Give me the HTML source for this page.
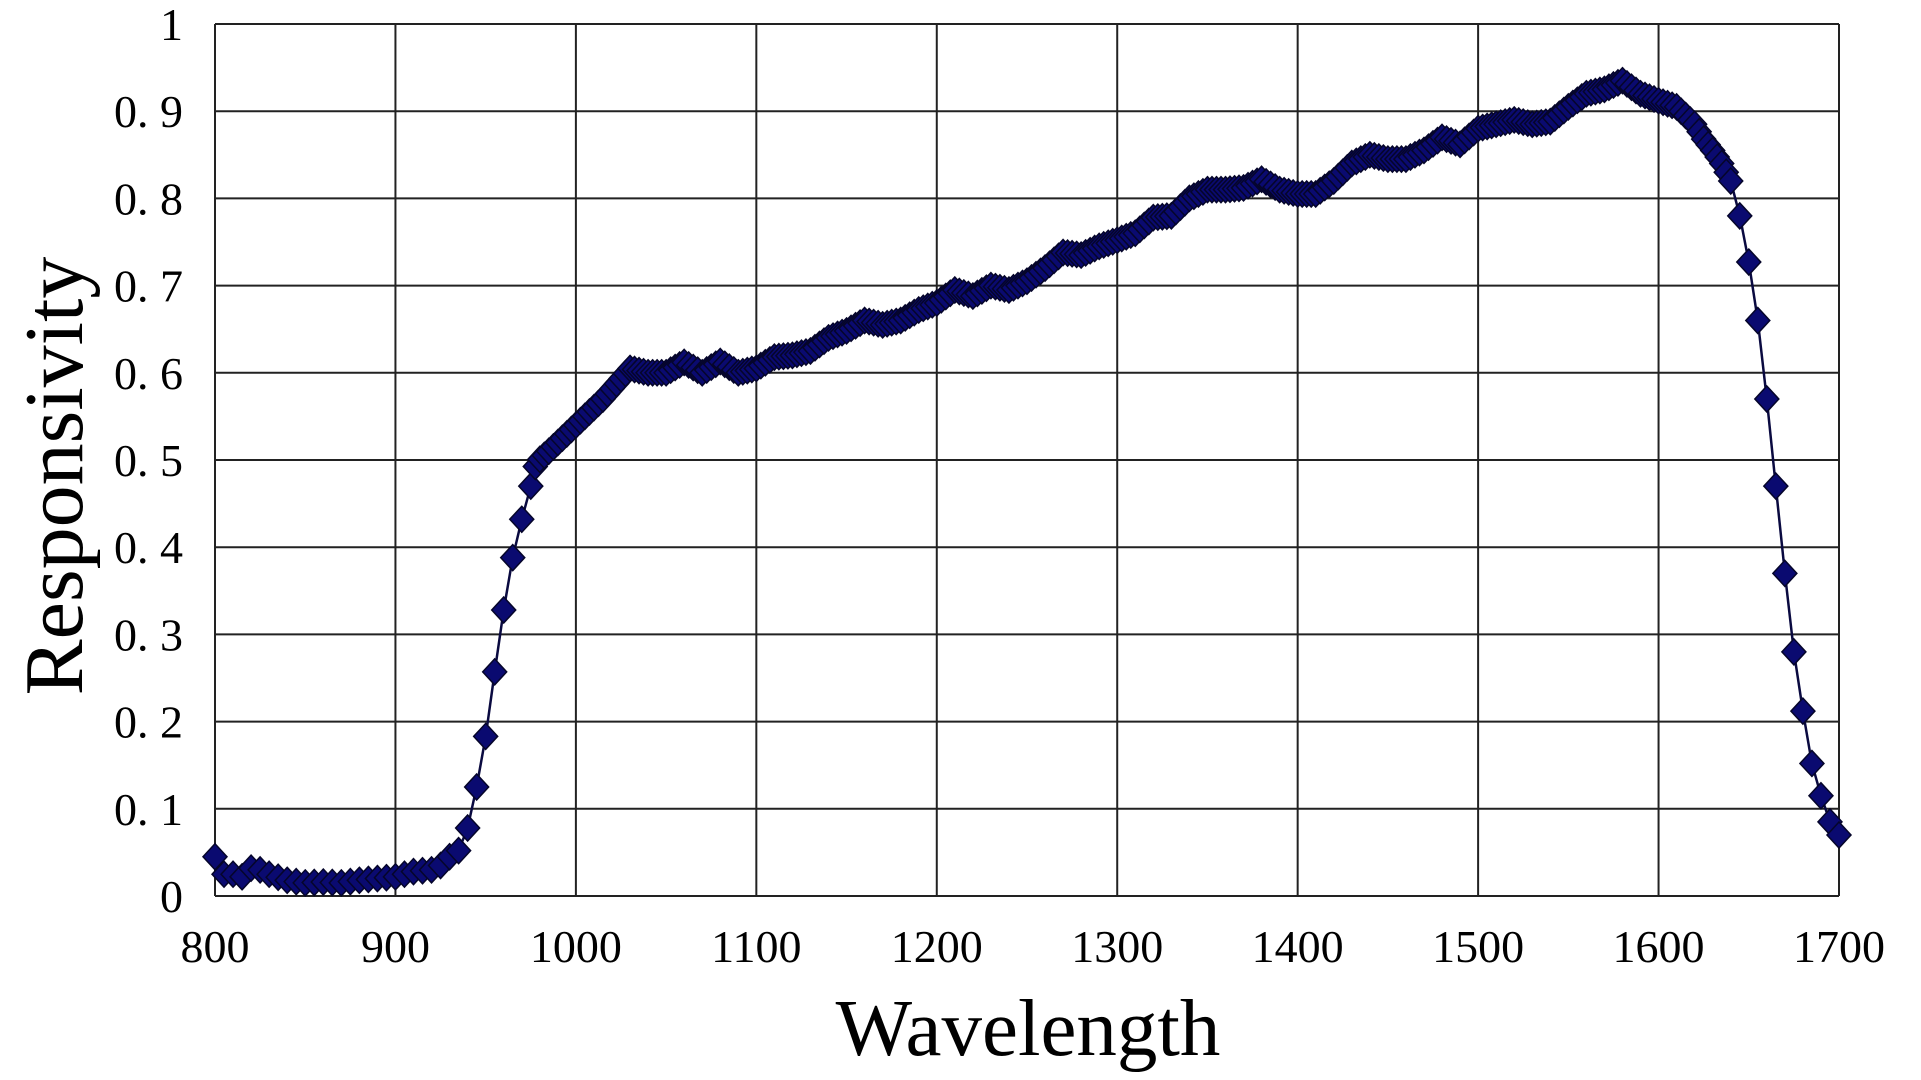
<!DOCTYPE html>
<html><head><meta charset="utf-8"><style>
html,body{margin:0;padding:0;background:#fff;}
svg{display:block;}
text{font-family:"Liberation Serif",serif;fill:#000;}
</style></head><body>
<svg id="s" width="1921" height="1080" xmlns="http://www.w3.org/2000/svg">
<rect width="1921" height="1080" fill="#fff"/>
<g id="grid" stroke="#222" stroke-width="2"></g>
<g id="lab" font-size="46"></g>
<text x="1028" y="1055" font-size="81" text-anchor="middle">Wavelength</text>
<text transform="translate(82,476) rotate(-90)" font-size="84" text-anchor="middle">Responsivity</text>
<polyline id="ln" fill="none" stroke="#0a0a40" stroke-width="2.5"/>
<g id="mk" fill="#0a0a70" stroke="#05052a" stroke-width="1.5"></g>
</svg>
<script>
var L=215,R=1839,T=24,B=896,NS="http://www.w3.org/2000/svg";
function X(w){return L+(w-800)/900*(R-L);}function Y(v){return B-v*(B-T);}
var g=document.getElementById('grid'),lab=document.getElementById('lab');
function el(p,t,a){var e=document.createElementNS(NS,t);for(var k in a)e.setAttribute(k,a[k]);p.appendChild(e);return e;}
for(var i=0;i<=9;i++){var x=X(800+i*100);el(g,'line',{x1:x,y1:T,x2:x,y2:B});
 var t=el(lab,'text',{x:x,y:962,'text-anchor':'middle'});t.textContent=800+i*100;}
for(var j=0;j<=10;j++){var y=Y(j/10);el(g,'line',{x1:L,y1:y,x2:R,y2:y});
 var t=el(lab,'text',{x:183,y:y+16,'text-anchor':'end'});t.textContent=j==0?'0':j==10?'1':'0. '+j;}
var K=[[800,.045],[805,.025],[810,.025],[815,.022],[820,.032],[825,.03],[830,.025],[840,.018],[850,.015],[860,.016],[870,.015],[880,.018],[890,.02],[900,.022],[910,.028],[920,.03],[925,.035],[930,.045],[935,.052],[940,.078],[945,.125],[950,.183],[955,.257],[960,.328],[965,.388],[970,.432],[975,.47],[978,.497],[985,.51],[1000,.54],[1015,.57],[1030,.605],[1040,.6],[1050,.6],[1060,.612],[1070,.6],[1080,.613],[1090,.6],[1100,.605],[1110,.618],[1120,.62],[1130,.625],[1140,.64],[1150,.648],[1160,.66],[1170,.655],[1180,.66],[1190,.672],[1200,.68],[1210,.695],[1220,.688],[1230,.7],[1240,.695],[1250,.705],[1260,.72],[1270,.738],[1280,.735],[1290,.745],[1300,.752],[1310,.76],[1320,.778],[1330,.78],[1340,.8],[1350,.81],[1360,.81],[1370,.812],[1380,.822],[1390,.81],[1400,.805],[1410,.805],[1420,.82],[1430,.84],[1440,.85],[1450,.845],[1460,.845],[1470,.855],[1480,.87],[1490,.862],[1500,.88],[1510,.885],[1520,.89],[1530,.885],[1540,.888],[1550,.905],[1560,.92],[1570,.925],[1580,.935],[1590,.92],[1600,.912],[1610,.905],[1620,.885],[1625,.868],[1630,.855],[1635,.84],[1640,.82],[1645,.78],[1650,.727],[1655,.66],[1660,.57],[1665,.47],[1670,.37],[1675,.28],[1680,.212],[1685,.152],[1690,.115],[1695,.085],[1700,.07]];
function f(w){for(var i=1;i<K.length;i++)if(w<=K[i][0]){var a=K[i-1],b=K[i];return a[1]+(b[1]-a[1])*(w-a[0])/(b[0]-a[0]);}return K[K.length-1][1];}
document.getElementById('ln').setAttribute('points',K.map(function(p){return X(p[0]).toFixed(1)+','+Y(p[1]).toFixed(1)}).join(' '));
var mk=document.getElementById('mk'),ws=[];
for(var w=800;w<=1700;){ws.push(w);w+=(w>=975&&w<1640)?2.5:5;}
ws.forEach(function(w){var x=X(w),y=Y(f(w));el(mk,'polygon',{points:(x)+','+(y-13)+' '+(x+12)+','+y+' '+x+','+(y+13)+' '+(x-12)+','+y});});
</script>
</body></html>
